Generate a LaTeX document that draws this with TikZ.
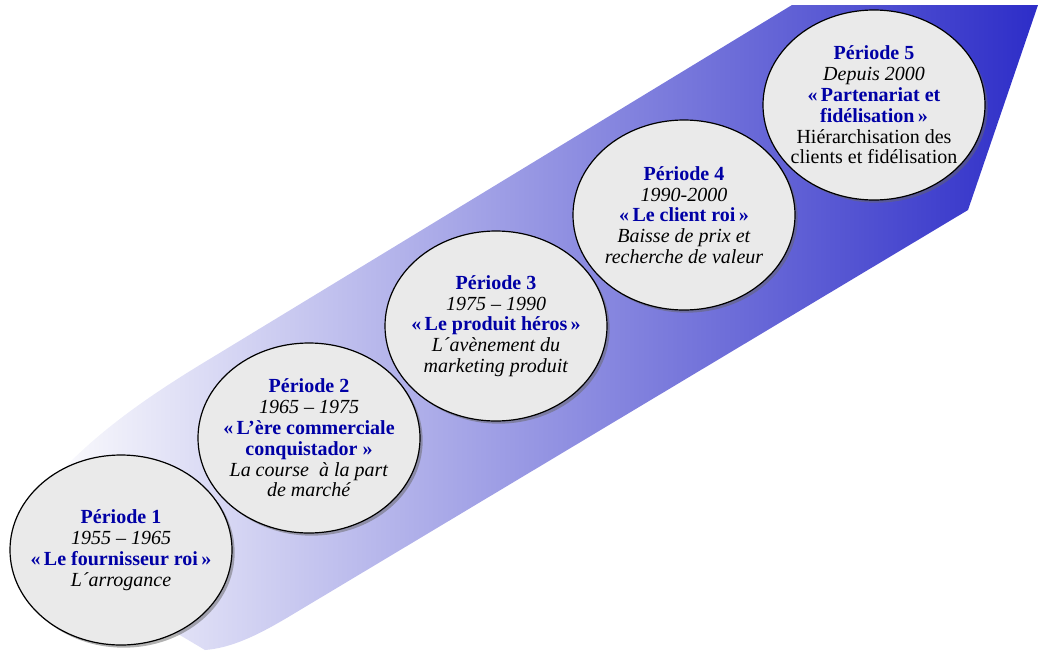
\documentclass[tikz,border=0pt]{standalone}
\usepackage{fontspec}
\setmainfont{Liberation Serif}
\usetikzlibrary{shapes.geometric,shadows}

\definecolor{bandblue}{RGB}{45,45,200}
\definecolor{bandmid}{RGB}{185,185,230}
\definecolor{bandlight}{RGB}{248,248,252}
\definecolor{titleblue}{RGB}{0,0,165}
\definecolor{discgray}{RGB}{234,234,234}
\newcommand{\ptitle}[1]{\textcolor{titleblue}{\textbf{#1}}}

\begin{document}
\begin{tikzpicture}[x=0.75pt,y=-0.75pt,
        period/.style={ellipse,draw=black,line width=0.9pt,fill=discgray,
                minimum width=166.5pt,minimum height=142.5pt,inner sep=0pt,
                drop shadow={shadow xshift=2pt,shadow yshift=-2pt,fill=black!60,opacity=0.5}},
        periodtext/.style={align=center,inner sep=0pt,font=\fontsize{15}{15.6}\selectfont}]
        \useasboundingbox (0,0) rectangle (1038,650);

        % the rising band
        \shade [left color=bandlight,middle color=bandmid,right color=bandblue]
        (792,5)
        -- (1038,5)
        -- (968,210)
        -- (290,616) .. controls (255,637) and (230,648) .. (205,650)
        -- (121,600)
        -- (67,465) .. controls (107,425) and (153,393) .. (213,357)
        -- cycle;

        \node[period] (p1) at (121,550) {};
        \node[period] (p2) at (309,438) {};
        \node[period] (p3) at (496,326) {};
        \node[period] (p4) at (684,215) {};
        \node[period] (p5) at (874,105) {};

        \node[periodtext] (t1) at (p1) {\ptitle{Période 1}\\ \textit{1955 – 1965}\\
                \ptitle{«\,Le fournisseur roi\,»}\\ \textit{L´arrogance}};
        \node[periodtext] (t2) at (p2) {\ptitle{Période 2}\\ \textit{1965 – 1975}\\
                \ptitle{«\,L’ère commerciale}\\ \ptitle{conquistador »}\\
                \textit{La course\enspace à la part}\\ \textit{de marché}};
        \node[periodtext] (t3) at (p3) {\ptitle{Période 3}\\ \textit{1975 – 1990}\\
                \ptitle{«\,Le produit héros\,»}\\ \textit{L´avènement du}\\
                \textit{marketing produit}};
        \node[periodtext] (t4) at (p4) {\ptitle{Période 4}\\ \textit{1990-2000}\\
                \ptitle{«\,Le client roi\,»}\\ \textit{Baisse de prix et}\\
                \textit{recherche de valeur}};
        \node[periodtext] (t5) at (p5) {\ptitle{Période 5}\\ \textit{Depuis 2000}\\
                \ptitle{«\,Partenariat et}\\ \ptitle{fidélisation\,»}\\
                Hiérarchisation des\\ clients et fidélisation};
\end{tikzpicture}
\end{document}
